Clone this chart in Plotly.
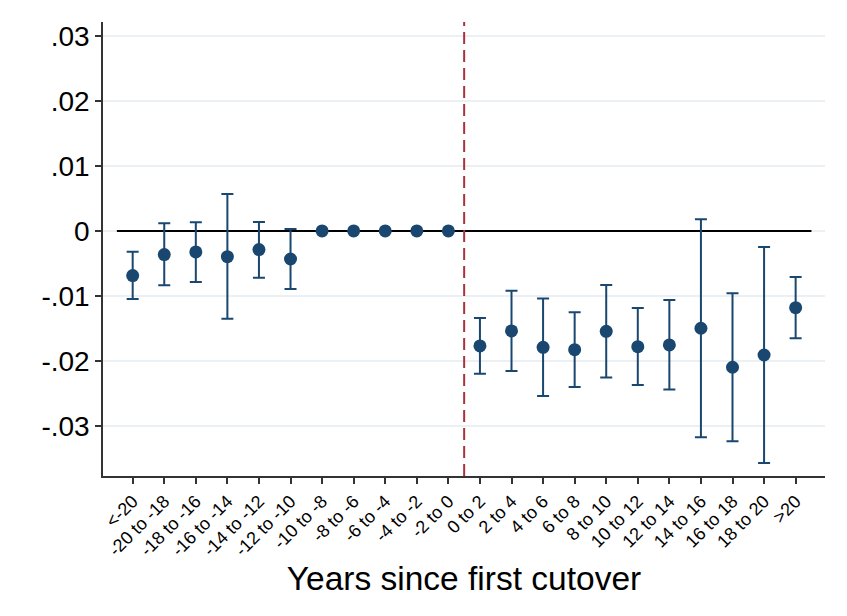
import plotly.graph_objects as go

categories = ["<-20", "-20 to -18", "-18 to -16", "-16 to -14", "-14 to -12", "-12 to -10",
              "-10 to -8", "-8 to -6", "-6 to -4", "-4 to -2", "-2 to 0",
              "0 to 2", "2 to 4", "4 to 6", "6 to 8", "8 to 10", "10 to 12",
              "12 to 14", "14 to 16", "16 to 18", "18 to 20", ">20"]

estimates = [-0.00687, -0.00364, -0.00323, -0.00395, -0.00287, -0.00431,
             0.0, 0.0, 0.0, 0.0, 0.0,
             -0.01769, -0.01538, -0.01790, -0.01826, -0.01544, -0.01780,
             -0.01754, -0.01497, -0.02097, -0.01908, -0.01180]

ci_upper = [-0.00318, 0.00118, 0.00133, 0.00569, 0.00138, 0.00031,
            None, None, None, None, None,
            -0.01338, -0.00918, -0.01041, -0.01251, -0.00831, -0.01185,
            -0.01062, 0.00180, -0.00959, -0.00246, -0.00708]

ci_lower = [-0.01046, -0.00836, -0.00785, -0.01349, -0.00718, -0.00892,
            None, None, None, None, None,
            -0.02195, -0.02154, -0.02538, -0.02400, -0.02256, -0.02369,
            -0.02441, -0.03174, -0.03236, -0.03569, -0.01651]

y_tickvals = [-0.03, -0.02, -0.01, 0, 0.01, 0.02, 0.03]
y_ticktext = ["-.03", "-.02", "-.01", "0", ".01", ".02", ".03"]

x_idx = list(range(len(categories)))
err_plus = [(u - e) if u is not None else 0 for u, e in zip(ci_upper, estimates)]
err_minus = [(e - l) if l is not None else 0 for l, e in zip(ci_lower, estimates)]
has_ci = [u is not None for u in ci_upper]

navy = "#1a476f"
fig = go.Figure()

# zero reference line
fig.add_trace(go.Scatter(x=[-0.5, len(categories) - 0.5], y=[0, 0], mode="lines",
                         line=dict(color="black", width=2), hoverinfo="skip", showlegend=False))

# confidence intervals
ex = [x for x, h in zip(x_idx, has_ci) if h]
ey = [e for e, h in zip(estimates, has_ci) if h]
fig.add_trace(go.Scatter(
    x=ex, y=ey, mode="markers",
    marker=dict(color=navy, size=1, opacity=0),
    error_y=dict(type="data", symmetric=False,
                 array=[p for p, h in zip(err_plus, has_ci) if h],
                 arrayminus=[m for m, h in zip(err_minus, has_ci) if h],
                 color=navy, thickness=2, width=6),
    showlegend=False))
# point estimates
fig.add_trace(go.Scatter(x=x_idx, y=estimates, mode="markers",
                         marker=dict(color=navy, size=13), showlegend=False))

# cutover dashed line
fig.add_shape(type="line", xref="x", yref="paper", x0=10.5, x1=10.5, y0=0, y1=1,
              line=dict(color="#a8323e", width=2, dash="12px,6px"))

font_family = "Liberation Sans, Arial, sans-serif"
fig.update_layout(
    width=839, height=608,
    margin=dict(l=95, r=22, t=14, b=140),
    paper_bgcolor="white", plot_bgcolor="white",
    font=dict(family=font_family, color="black"),
    xaxis=dict(
        range=[-0.94, 21.93], automargin=False,
        tickmode="array", tickvals=x_idx, ticktext=categories,
        tickangle=-45, tickfont=dict(size=18, family=font_family),
        ticks="outside", ticklen=6, tickcolor="#333", tickwidth=1.5,
        showline=True, linecolor="#333", linewidth=1.5,
        showgrid=False, zeroline=False,
        title=dict(text="Years since first cutover", font=dict(size=33.5, family=font_family),
                   standoff=2),
    ),
    yaxis=dict(
        range=[-0.0377, 0.03215], automargin=False,
        tickmode="array", tickvals=y_tickvals, ticktext=y_ticktext,
        tickfont=dict(size=28, family=font_family),
        ticks="outside", ticklen=6, tickcolor="#333", tickwidth=1.5,
        showline=True, linecolor="#333", linewidth=1.5,
        showgrid=True, gridcolor="#eaf0f3", gridwidth=1.5,
        zeroline=False,
    ),
)

fig.write_html("out.html")
